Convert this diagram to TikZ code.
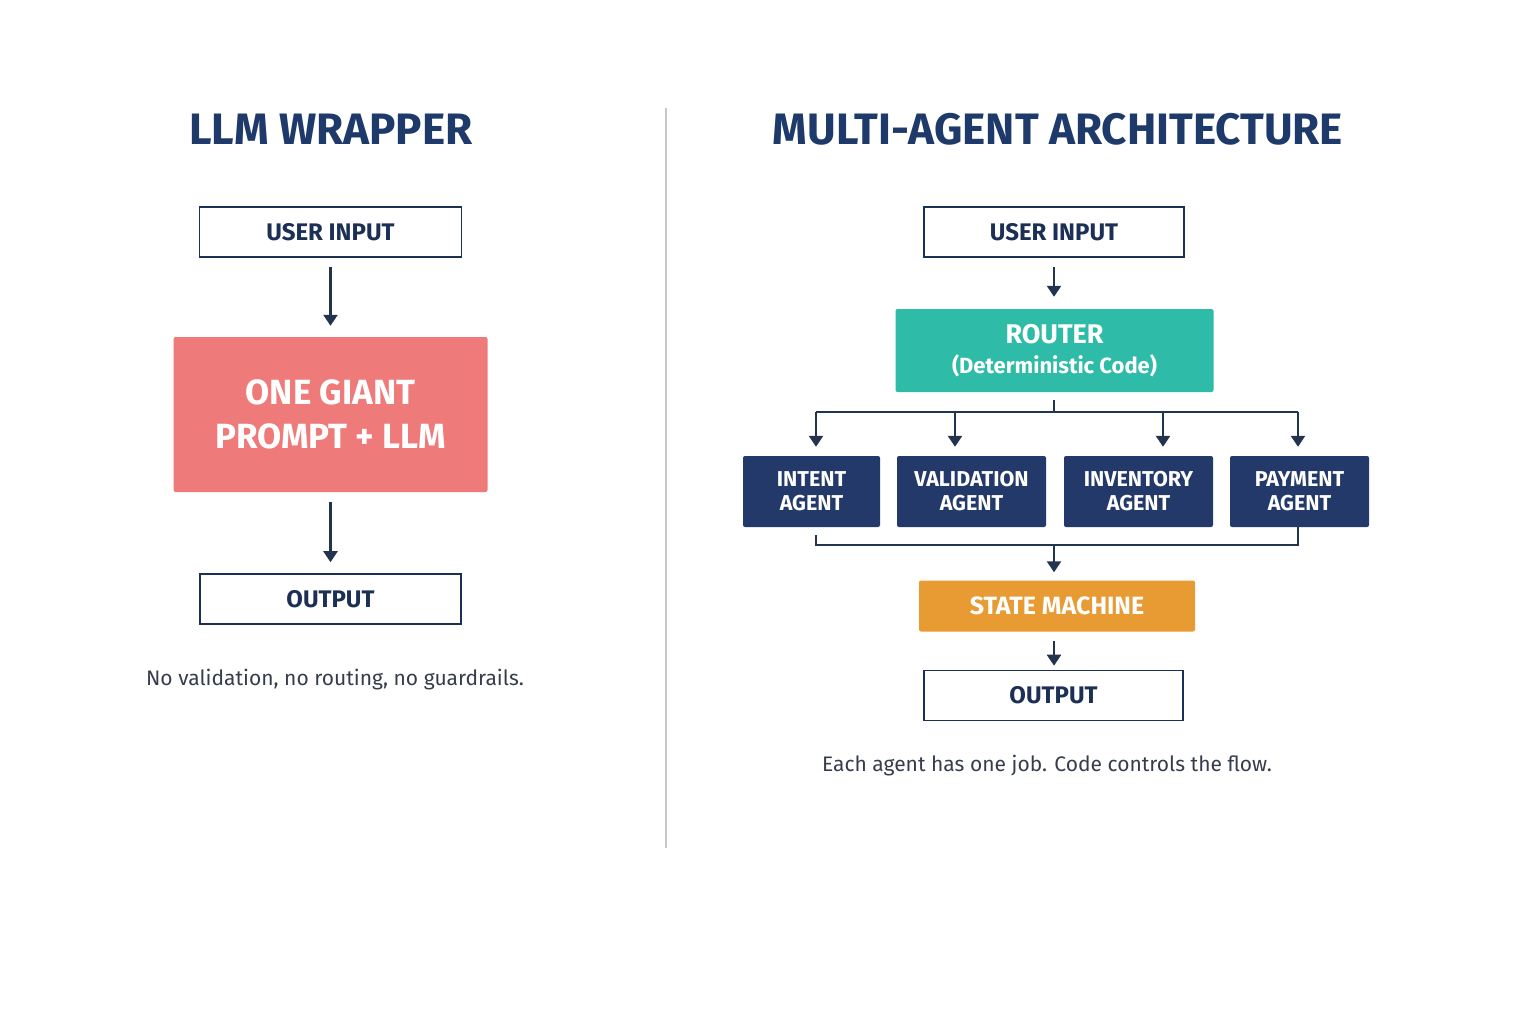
\documentclass[tikz,border=0pt]{standalone}
\usepackage{fontspec}
\setmainfont{Fira Sans}
\usetikzlibrary{arrows.meta}
\definecolor{navy}{HTML}{1E3A6A}
\definecolor{boxtxt}{HTML}{1C2F55}
\definecolor{linec}{HTML}{23344F}
\definecolor{redbox}{HTML}{EF7A7A}
\definecolor{teal}{HTML}{2EBBA7}
\definecolor{agent}{HTML}{22396A}
\definecolor{orangebox}{HTML}{E89A33}
\definecolor{capt}{HTML}{353D4C}
\definecolor{divider}{HTML}{C8C8C8}
\tikzset{
  title/.style={font=\fontsize{44}{48}\selectfont\bfseries, text=navy},
  outbox/.style={draw=boxtxt, line width=1.6pt, fill=white, text=boxtxt,
    font=\fontsize{24}{26}\selectfont\bfseries, minimum height=50pt, inner sep=0pt},
  agentbox/.style={fill=agent, rounded corners=2pt, text=white, align=center,
    font=\fontsize{21.5}{24}\selectfont\bfseries, minimum height=71pt, inner sep=0pt},
  conn/.style={draw=linec, line width=2.4pt},
  arr/.style={conn, -{Triangle[width=14pt,length=11pt]}},
  caption/.style={text=capt, font=\fontsize{21}{26}\selectfont}
}
\begin{document}
\begin{tikzpicture}[x=1pt,y=-1pt]
\fill[white] (0,0) rectangle (1536,1024);
\useasboundingbox (0,0) rectangle (1536,1024);
% divider
\draw[divider, line width=1.2pt] (666,108) -- (666,848);
% ---------- left ----------
\node[title] (ltitle) at (331,129) {LLM WRAPPER};
\node[outbox, minimum width=262pt] (lin) at (330.5,232) {USER INPUT};
\node[fill=redbox, rounded corners=2pt, minimum width=314pt, minimum height=155pt,
  text=white, align=center, font=\fontsize{35}{44}\selectfont\bfseries] (giant) at (330.5,414.5)
  {ONE GIANT\\PROMPT + LLM};
\node[outbox, minimum width=261pt] (lout) at (330.5,599) {OUTPUT};
\node[caption] (lcap) at (335,680) {No validation, no routing, no guardrails.};
\draw[arr, shorten <=9pt, shorten >=11pt] (lin.south) -- (lin.south |- giant.north);
\draw[arr, shorten <=10pt, shorten >=11pt] (giant.south) -- (giant.south |- lout.north);
% ---------- right ----------
\node[title] (rtitle) at (1058,129) {MULTI-AGENT ARCHITECTURE};
\node[outbox, minimum width=260pt] (rin) at (1054,232) {USER INPUT};
\node[fill=teal, rounded corners=2pt, minimum width=318pt, minimum height=83pt,
  text=white, align=center, inner sep=0pt, font=\fontsize{22}{30}\selectfont\bfseries] (router) at (1054.5,350.5)
  {{\fontsize{27}{30}\selectfont ROUTER}\\(Deterministic Code)};
\draw[arr, shorten <=9pt, shorten >=12pt] (rin.south) -- (rin.south |- router.north);
\node[agentbox, minimum width=137pt] (intent) at (811.5,491.5) {INTENT\\AGENT};
\node[agentbox, minimum width=149pt] (valid) at (971.5,491.5) {VALIDATION\\AGENT};
\node[agentbox, minimum width=149pt] (invent) at (1138.5,491.5) {INVENTORY\\AGENT};
\node[agentbox, minimum width=139pt] (pay) at (1299.5,491.5) {PAYMENT\\AGENT};
% branch
\coordinate (br) at (1054,412);
\coordinate (bl) at (816,412);
\coordinate (b2) at (955,412);
\coordinate (b3) at (1163,412);
\coordinate (bR) at (1298,412);
\draw[conn, shorten <=8pt] (router.south -| br) -- (br);
\draw[conn] (bl) -- (bR);
\draw[arr, shorten >=9pt] (bl) -- (bl |- intent.north);
\draw[arr, shorten >=9pt] (b2) -- (b2 |- valid.north);
\draw[arr, shorten >=9pt] (b3) -- (b3 |- invent.north);
\draw[arr, shorten >=9pt] (bR) -- (bR |- pay.north);
% merge
\coordinate (ml) at (816,545);
\coordinate (mr) at (1298,545);
\coordinate (mc) at (1054,545);
\node[fill=orangebox, rounded corners=2pt, minimum width=276pt, minimum height=51pt,
  text=white, font=\fontsize{25}{28}\selectfont\bfseries, inner sep=0pt] (state) at (1057,606) {STATE MACHINE};
\draw[conn, shorten <=8pt] (ml |- intent.south) -- (ml) -- (mr) -- (mr |- pay.south);
\draw[arr, shorten >=8pt] (mc) -- (mc |- state.north);
\node[outbox, minimum width=259pt] (rout) at (1053.5,695.5) {OUTPUT};
\draw[arr, shorten <=9pt, shorten >=4pt] (state.south -| mc) -- (rout.north -| mc);
\node[caption] (rcap) at (1047,766) {Each agent has one job. Code controls the flow.};
\end{tikzpicture}
\end{document}
